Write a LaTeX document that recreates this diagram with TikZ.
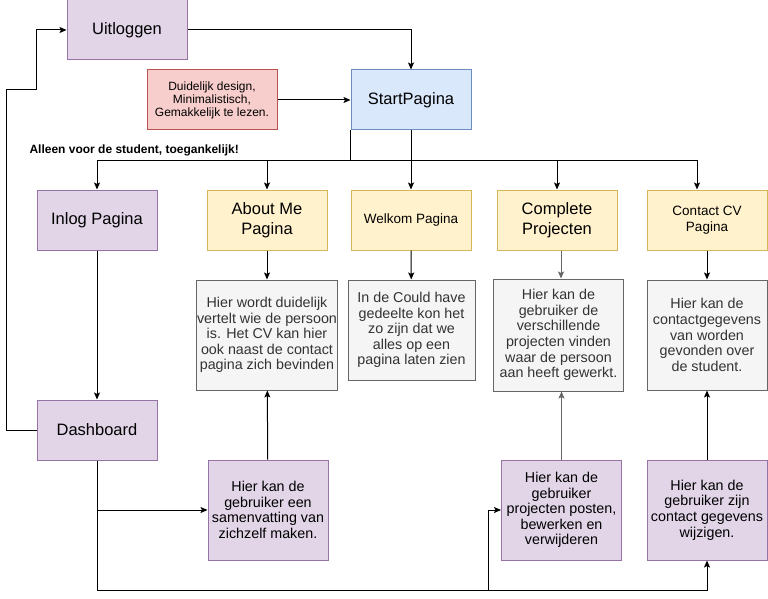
\documentclass[tikz,border=0pt]{standalone}
\usepackage{fontspec}
\setmainfont{Liberation Sans}
\usepackage{tikz}
\usetikzlibrary{arrows.meta,positioning}
\usepackage{xcolor}
\definecolor{paarsvul}{HTML}{E1D5E7}
\definecolor{paarsrand}{HTML}{9673A6}
\definecolor{blauwvul}{HTML}{DAE8FC}
\definecolor{blauwrand}{HTML}{6C8EBF}
\definecolor{geelvul}{HTML}{FFF2CC}
\definecolor{geelrand}{HTML}{D6B656}
\definecolor{roodvul}{HTML}{F8CECC}
\definecolor{roodrand}{HTML}{B85450}
\definecolor{grijsvul}{HTML}{F5F5F5}
\definecolor{grijsrand}{HTML}{666666}
\definecolor{grijstekst}{HTML}{333333}
\newcommand{\groot}{\fontsize{16.5}{20}\selectfont}
\newcommand{\middel}{\fontsize{13.5}{16.5}\selectfont}
\newcommand{\klein}{\fontsize{12}{13}\selectfont}
\newcommand{\tekst}{\fontsize{14.3}{15.6}\selectfont}

\begin{document}
\begin{tikzpicture}[x=1pt,y=-1pt,>={Stealth[length=7pt,width=6pt,inset=1.5pt]},node distance=120pt,on grid,
	blok/.style={rectangle,draw,line width=1pt,inner sep=1pt,align=center,minimum width=120pt,minimum height=60pt,font=\groot},
	paars/.style={blok,fill=paarsvul,draw=paarsrand},
	blauw/.style={blok,fill=blauwvul,draw=blauwrand},
	geel/.style={blok,fill=geelvul,draw=geelrand},
	rood/.style={blok,fill=roodvul,draw=roodrand,font=\klein},
	grijs/.style={blok,fill=grijsvul,draw=grijsrand,text=grijstekst,font=\tekst}]
				\useasboundingbox (0,0) rectangle (768,599);
				  \node[blauw]          (start) at (411,100)       {StartPagina};
				  \node[paars]          (uit) at (127,30)          {Uitloggen};
				  \node[rood,minimum width=130pt] (eisen) [left=199pt of start] {Duidelijk design,\\Minimalistisch,\\Gemakkelijk te lezen.};
				  \node[geel,font=\middel] (welkom) [below=of start] {Welkom Pagina};
				  \node[geel]           (about) [left=144pt of welkom]   {About Me\\Pagina};
				  \node[paars]          (inlog) [left=170pt of about]    {Inlog Pagina};
				  \node[geel]           (projecten) [right=146pt of welkom] {Complete\\Projecten};
				  \node[geel,font=\middel] (contact) [right=150pt of projecten] {Contact CV\\Pagina};
				  \node[grijs,minimum width=140pt,minimum height=110pt] (abouttekst) [below=115pt of about] {Hier wordt duidelijk\\vertelt wie de persoon\\is. Het CV kan hier\\ook naast de contact\\pagina zich bevinden};
				  \node[grijs,minimum width=127pt,minimum height=100pt] (welkomtekst) [below right=110pt and 0.5pt of welkom] {In de Could have\\gedeelte kon het\\zo zijn dat we\\alles op een\\pagina laten zien};
				  \node[grijs,minimum width=130pt,minimum height=112pt] (projectentekst) [below right=115pt and 1.5pt of projecten] {Hier kan de\\gebruiker de\\verschillende\\projecten vinden\\waar de persoon\\aan heeft gewerkt.};
				  \node[grijs,minimum height=110pt] (contacttekst) [below=115pt of contact] {Hier kan de\\contactgegevens\\van worden\\gevonden over\\de student.};
				  \node[paars]          (dash) [below=210pt of inlog]    {Dashboard};
				  \node[paars,font=\tekst,minimum height=100pt] (samenvatting) [below right=175pt and 1pt of abouttekst] {Hier kan de\\gebruiker een\\samenvatting van\\zichzelf maken.};
				  \node[paars,font=\tekst,minimum height=100pt] (posten) [below right=175pt and 3pt of projectentekst] {Hier kan de\\gebruiker\\projecten posten,\\bewerken en\\verwijderen};
				  \node[paars,font=\tekst,minimum height=100pt] (wijzigen) [below=175pt of contacttekst] {Hier kan de\\gebruiker zijn\\contact gegevens\\wijzigen.};
				  \node[font=\klein\bfseries,anchor=west] (alleen) at (26,150) {Alleen voor de student, toegankelijk!};
				  \coordinate (splitsing) at ([yshift=-30pt]start.south west);
				  \coordinate (knik) at (488,590);
				  
				\tikzset{lijn/.style={->,line width=1pt,black}}
				\tikzset{grijslijn/.style={lijn,draw=grijsrand}}
				\path (eisen)     edge [lijn]    (start)
					  (start)     edge [lijn]    (welkom)
					  (inlog)     edge [lijn]    (dash)
					  (about)     edge [lijn]    (abouttekst)
					  (welkom)    edge [lijn]    (welkomtekst)
					  ([xshift=4pt]projecten.south) edge [grijslijn] ([xshift=4pt]projecten.south |- projectentekst.north)
					  (contact)   edge [lijn]    (contacttekst)
					  (samenvatting) edge [lijn] (abouttekst)
					  (posten)    edge [grijslijn] (posten.north |- projectentekst.south)
					  (wijzigen)  edge [lijn]    (contacttekst);
				\draw[lijn] (uit) -| (start);
				\draw[line width=1pt] (start.south west) -- (splitsing);
				\draw[lijn] (splitsing) -| (inlog);
				\draw[lijn] (splitsing) -| (about);
				\draw[lijn] (splitsing) -| (projecten);
				\draw[lijn] (splitsing) -| ([xshift=-10pt]contact.north);
				\draw[lijn] (dash.west) -- ++(-30,0) -- ++(0,-340) -- ++(30,0) |- (uit);
				\draw[lijn] (dash.south) -- ++(0,130) -| (wijzigen);
				\draw[lijn] (dash.south |- samenvatting) -- (samenvatting);
				\draw[lijn] (knik) |- (posten);
			\end{tikzpicture}
\end{document}
